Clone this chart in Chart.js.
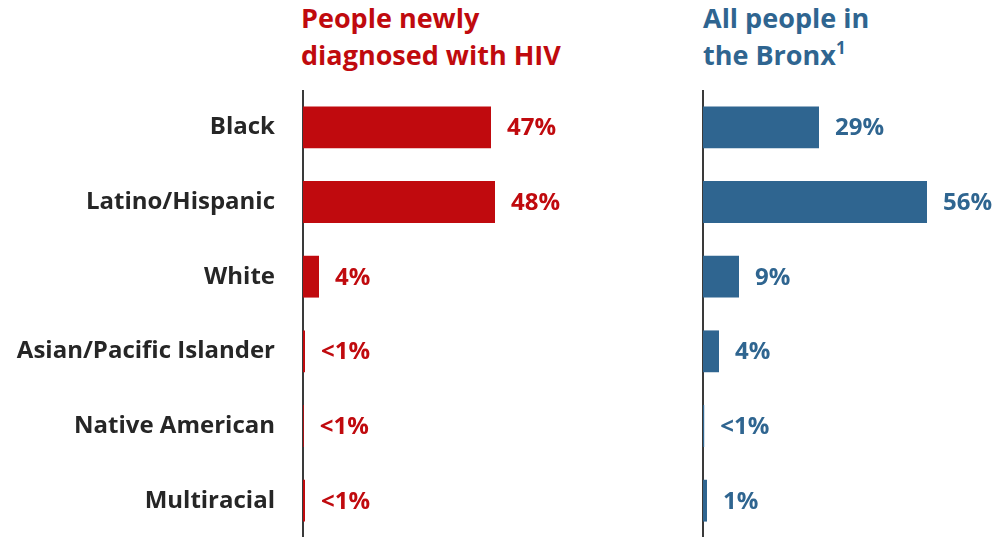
<!DOCTYPE html>
<html>
<head>
<meta charset="utf-8">
<script src="https://cdn.jsdelivr.net/npm/chart.js@4.4.1/dist/chart.umd.min.js"></script>
<style>
  html, body { margin: 0; padding: 0; background: #fff; overflow: hidden; }
  body { width: 1000px; height: 537px; position: relative; font-family: "Open Sans", sans-serif; }
  .title { position: absolute; font-weight: bold; font-size: 27px; line-height: 37px; }
  #titleLeft { left: 301px; top: -1px; color: #C00A0E; }
  #titleRight { left: 703px; top: -1px; color: #2F6590; }
  #titleRight sup { font-size: 17px; vertical-align: 11px; line-height: 0; }
  canvas { position: absolute; }
  #leftChart { left: 0; top: 90px; }
  #rightChart { left: 698px; top: 90px; }
</style>
</head>
<body>
<div class="title" id="titleLeft">People newly<br>diagnosed with HIV</div>
<div class="title" id="titleRight">All people in<br>the Bronx<sup>1</sup></div>
<canvas id="leftChart" width="583" height="448"></canvas>
<canvas id="rightChart" width="305" height="448"></canvas>
<script>
// Categories and values
const categories = ['Black', 'Latino/Hispanic', 'White', 'Asian/Pacific Islander', 'Native American', 'Multiracial'];
const newlyDiagnosed = [47, 48, 4, 0.5, 0.2, 0.5];
const newlyDiagnosedLabels = ['47%', '48%', '4%', '<1%', '<1%', '<1%'];
const bronxPopulation = [29, 56, 9, 4, 0.3, 1];
const bronxPopulationLabels = ['29%', '56%', '9%', '4%', '<1%', '1%'];

const red = '#C00A0E';
const blue = '#2F6590';
const textColor = '#262626';

// draws the percentage text next to every bar
const valueLabels = {
    id: 'valueLabels',
    afterDatasetsDraw(chart) {
        const ctx = chart.ctx;
        const ds = chart.data.datasets[0];
        const meta = chart.getDatasetMeta(0);
        ctx.save();
        ctx.font = 'bold 24px "Open Sans"';
        ctx.fillStyle = ds.backgroundColor;
        ctx.textAlign = 'left';
        ctx.textBaseline = 'middle';
        meta.data.forEach((bar, i) => {
            ctx.fillText(ds.valueText[i], bar.x + 16, bar.y + 1);
        });
        ctx.restore();
    }
};

function makeChart(id, values, texts, color, showLabels, axisWidth, maxValue) {
    const canvas = document.getElementById(id).getContext('2d');
    return new Chart(canvas, {
        type: 'bar',
        data: {
            labels: categories,
            datasets: [{
                data: values,
                valueText: texts,
                backgroundColor: color,
                borderWidth: 0,
                categoryPercentage: 1,
                barPercentage: 0.56
            }]
        },
        options: {
            indexAxis: 'y',
            responsive: false,
            animation: false,
            layout: { padding: 0 },
            plugins: {
                legend: { display: false },
                tooltip: { enabled: false }
            },
            scales: {
                x: {
                    display: false,
                    min: 0,
                    max: maxValue
                },
                y: {
                    afterFit: function(scale) {
                        // fixed axis width, and no extra room above/below the bars
                        scale.width = axisWidth;
                        scale.paddingTop = 0;
                        scale.paddingBottom = 0;
                    },
                    grid: { display: false, drawTicks: false },
                    border: { display: true, color: '#3a3a3a', width: 2 },
                    ticks: {
                        display: showLabels,
                        padding: 28,
                        color: textColor,
                        font: { family: 'Open Sans', weight: 'bold', size: 24 }
                    }
                }
            }
        },
        plugins: [valueLabels]
    });
}

makeChart('leftChart', newlyDiagnosed, newlyDiagnosedLabels, red, true, 303, 70);
makeChart('rightChart', bronxPopulation, bronxPopulationLabels, blue, false, 5, 75);
</script>
</body>
</html>
